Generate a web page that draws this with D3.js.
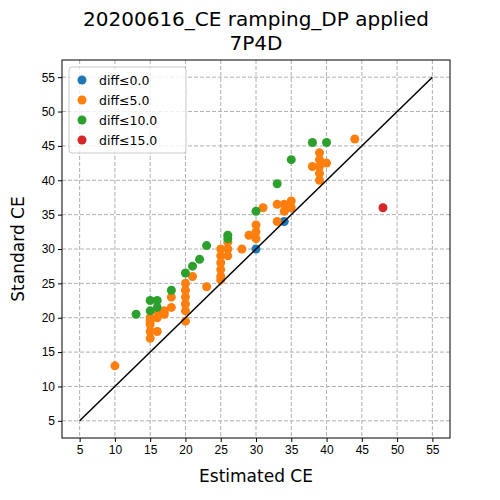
<!DOCTYPE html>
<html><head><meta charset="utf-8">
<script src="https://cdn.jsdelivr.net/npm/d3@7"></script>
<style>body{margin:0;background:#fff}</style>
</head><body>
<script>
// groups by diff threshold, points as [estimated, standard]
const groupNames = ["diff≤0.0", "diff≤5.0", "diff≤10.0", "diff≤15.0"];
const groupColors = ["#1f77b4", "#ff7f0e", "#2ca02c", "#d62728"];
const blue = [[30,30],[34,34]];
const orange = [[10,13],[15,17],[15,18],[15,19],[15,20],[15,19.5],[16,18],[16,20],[16,21],[17,20.5],[17,21],[18,21.5],[18,23],
  [20,19.5],[20,21],[20,22],[20,23],[20,24],[20,25],[21,26],[23,24.5],[25,25.5],[25,26],[25,27],[25,28],[25,29],[25,30],
  [26,29],[26,30],[26,31],[28,30],[29,32],[30,31.5],[30,32.5],[30,33.5],[31,36],[33,34],[33,36.5],[34,35.5],[34,36.5],
  [35,36],[35,37],[34.5,36],[38,42],[39,40],[39,41],[39,42],[39,43],[39,44],[40,42.5],[44,46]];
const green = [[13,20.5],[15,22.5],[15,21],[16,22.5],[16,21.5],[18,24],[20,26.5],[21,27.5],[22,28.5],[23,30.5],[26,31.5],
  [26,32],[30,35.5],[33,39.5],[35,43],[38,45.5],[40,45.5]];
const red = [[48,36]];
const groups = [blue, orange, green, red];
const ticks = [5,10,15,20,25,30,35,40,45,50,55];

const svg = d3.select("body").append("svg").attr("width", 500).attr("height", 500)
  .style("font-family", "DejaVu Sans");
const L = 62, R = 450, T = 60, B = 438;
const x = d3.scaleLinear().domain([2.5, 57.5]).range([L, R]);
const y = d3.scaleLinear().domain([2.5, 57.5]).range([B, T]);

svg.append("g").selectAll("line.gx").data(ticks).enter().append("line")
  .attr("x1", d => x(d)).attr("x2", d => x(d)).attr("y1", T).attr("y2", B)
  .attr("stroke", "#b0b0b0").attr("stroke-dasharray", "4,2");
svg.append("g").selectAll("line.gy").data(ticks).enter().append("line")
  .attr("y1", d => y(d)).attr("y2", d => y(d)).attr("x1", L).attr("x2", R)
  .attr("stroke", "#b0b0b0").attr("stroke-dasharray", "4,2");

svg.append("g").attr("transform", `translate(0,${B})`)
  .call(d3.axisBottom(x).tickValues(ticks).tickSize(4).tickSizeOuter(0))
  .call(g => g.selectAll("text").attr("font-size", 12).attr("fill", "#000"))
  .call(g => g.select(".domain").remove());
svg.append("g").attr("transform", `translate(${L},0)`)
  .call(d3.axisLeft(y).tickValues(ticks).tickSize(4).tickSizeOuter(0))
  .call(g => g.selectAll("text").attr("font-size", 12).attr("fill", "#000"))
  .call(g => g.select(".domain").remove());

groups.forEach((pts, i) => {
  svg.append("g").selectAll("circle").data(pts).enter().append("circle")
    .attr("cx", d => x(d[0])).attr("cy", d => y(d[1])).attr("r", 4.5)
    .attr("fill", groupColors[i]);
});

svg.append("line").attr("x1", x(5)).attr("y1", y(5)).attr("x2", x(55)).attr("y2", y(55))
  .attr("stroke", "#000").attr("stroke-width", 1.5);

svg.append("rect").attr("x", L).attr("y", T).attr("width", R - L).attr("height", B - T)
  .attr("fill", "none").attr("stroke", "#000");

const lg = svg.append("g").attr("transform", `translate(${L + 7},${T + 7})`);
lg.append("rect").attr("width", 117).attr("height", 86).attr("rx", 3)
  .attr("fill", "#fff").attr("fill-opacity", 0.8).attr("stroke", "#ccc");
groupNames.forEach((n, i) => {
  lg.append("circle").attr("cx", 13).attr("cy", 13 + i * 20).attr("r", 4.5).attr("fill", groupColors[i]);
  lg.append("text").attr("x", 30).attr("y", 17.5 + i * 20).attr("font-size", 12.5).text(n);
});

svg.append("text").attr("x", (L + R) / 2).attr("y", 26).attr("text-anchor", "middle")
  .attr("font-size", 20).text("20200616_CE ramping_DP applied");
svg.append("text").attr("x", (L + R) / 2).attr("y", 50).attr("text-anchor", "middle")
  .attr("font-size", 20).text("7P4D");
svg.append("text").attr("x", (L + R) / 2).attr("y", 482).attr("text-anchor", "middle")
  .attr("font-size", 17).text("Estimated CE");
svg.append("text").attr("transform", `translate(24,${(T + B) / 2}) rotate(-90)`)
  .attr("text-anchor", "middle").attr("font-size", 17).text("Standard CE");
</script>
</body></html>
